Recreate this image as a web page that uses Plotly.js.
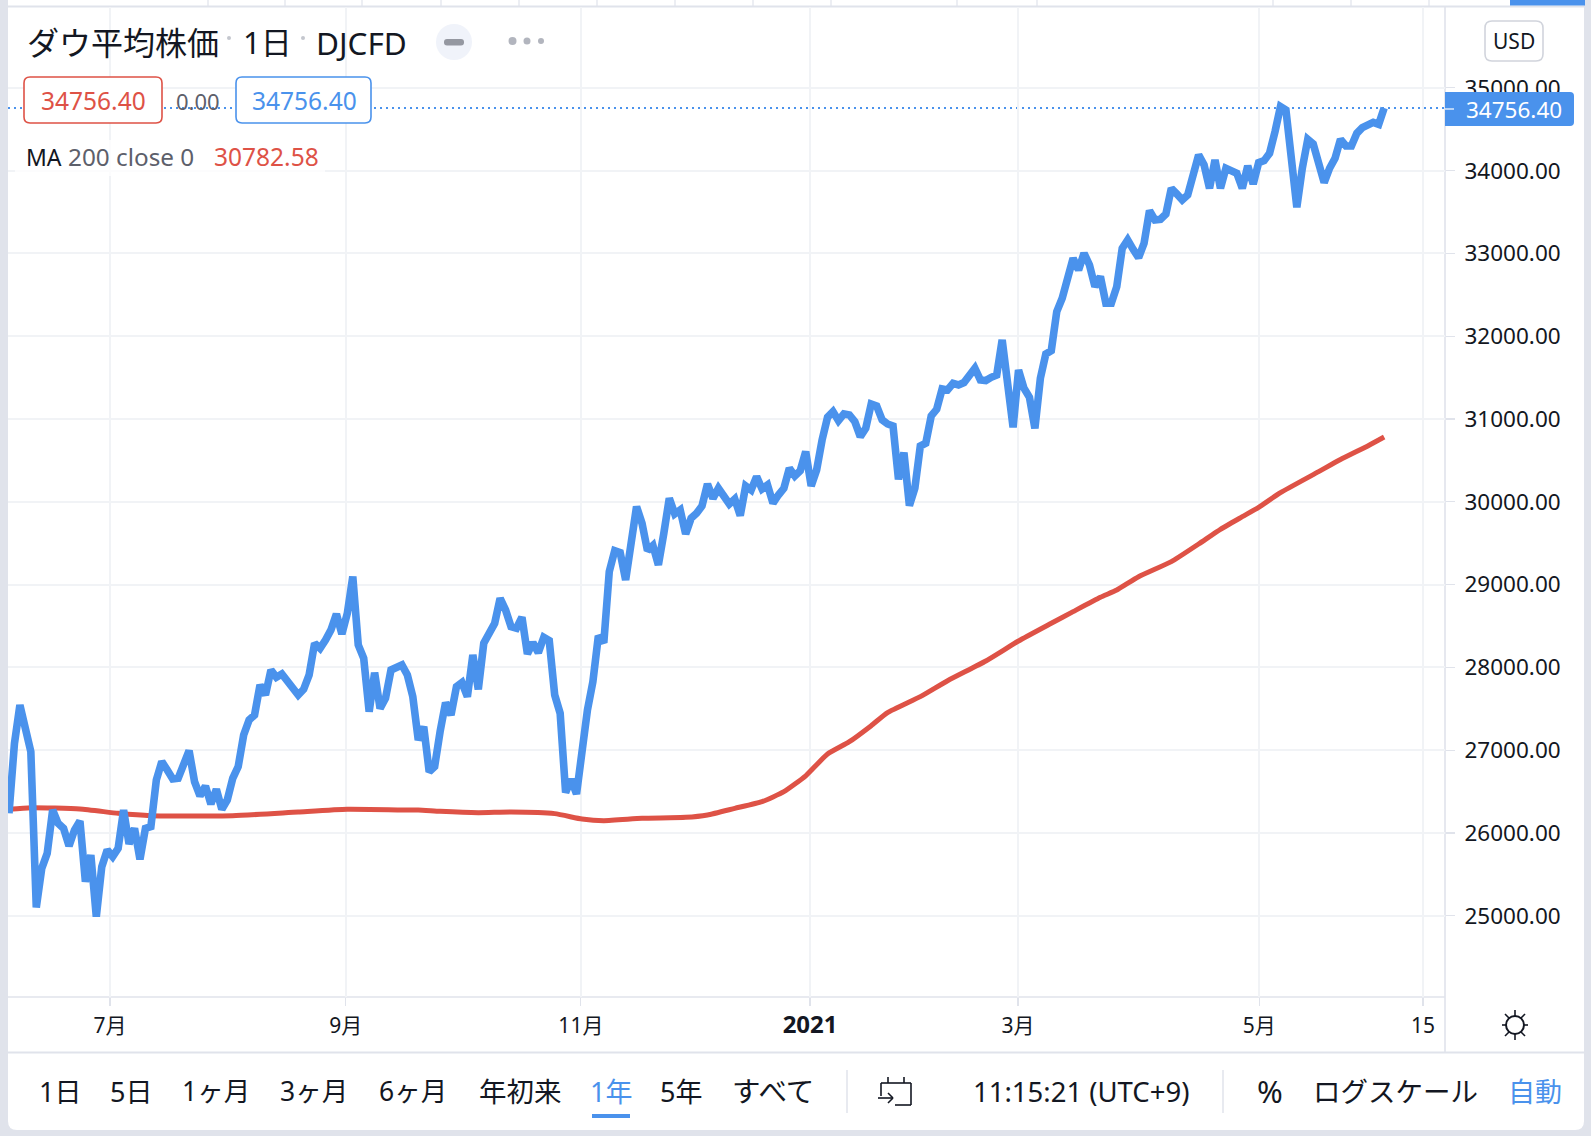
<!DOCTYPE html>
<html><head><meta charset="utf-8">
<script src="https://cdn.plot.ly/plotly-3.0.1.min.js"></script>
<style>html,body{margin:0;padding:0;background:#e0e3eb;overflow:hidden}#c{width:1591px;height:1136px}</style>
</head><body><div id="c"></div>
<script>
const closeValues = [
26237,27082,27545,27223,26982,25101,25572,25753,26277,26116,
26055,25842,26035,26144,25411,25733,24988,25592,25794,25713,
25814,26277,25866,26055,25681,26055,26076,26639,26861,26760,
26651,26659,26820,26994,26619,26446,26567,26349,26527,26285,
26398,26659,26800,27183,27364,27425,27787,27666,27968,27880,
27920,27827,27747,27666,27735,27908,28291,28230,28331,28452,
28645,28404,28653,29096,28271,28110,27465,27936,27505,27626,
27969,27989,28029,27908,27646,27123,27284,26740,26801,27224,
27574,27425,27767,27816,27646,28150,27735,28291,28391,28532,
28834,28693,28492,28472,28605,28162,28299,28178,28363,28323,
27667,27445,26487,26648,26471,27042,27485,27828,28379,28299,
29157,29410,29386,29056,29459,29942,29741,29410,29471,29237,
29620,30043,29853,29901,29611,29801,29861,29950,30215,30042,
30163,30062,29974,30034,29833,30191,30143,30304,30155,30203,
29982,30082,30163,30405,30312,30376,30606,30191,30384,30747,
31021,31089,30980,31061,31049,30968,30787,30888,31182,31158,
30989,30940,30916,30272,30594,29954,30163,30674,30707,31037,
31117,31363,31351,31431,31411,31440,31532,31613,31472,31464,
31504,31532,31955,31431,30900,31592,31371,31262,30888,31492,
31786,31826,32297,32458,32680,32941,32800,33002,32861,32599,
32720,32398,32398,32599,33062,33163,33050,32949,33123,33517,
33405,33413,33477,33787,33719,33646,33707,33948,34190,34069,
33787,34129,33787,34029,33988,33968,33787,34057,33839,34097,
34121,34210,34472,34774,34733,34180,33557,34029,34379,34323,
34049,33856,34029,34150,34379,34298,34298,34452,34520,34564,
34584,34560,34756.40];
const barIndex = closeValues.map((v,i)=>i);
const maIndex = [0,4,13,20,26,41,53,62,72,75,79,86,92,100,105,109,116,124,128,133,138,142,146,150,154,158,161,167,172,179,185,191,195,200,203,207,213,218,222,226,229,233,240,244,249,252];
const maValues = [26285,26305,26289,26237,26208,26208,26253,26285,26277,26277,26261,26245,26253,26233,26168,26148,26176,26188,26217,26297,26378,26498,26690,26953,27102,27296,27453,27646,27839,28077,28318,28532,28673,28846,28934,29095,29277,29490,29667,29820,29933,30110,30364,30510,30675,30782.58];
const priceTicks = [25000,26000,27000,28000,29000,30000,31000,32000,33000,34000,35000];
const timeTickVals = [18.5,61.7,104.8,146.8,184.9,229.1,259.1];
const timeTickText = ['7月','9月','11月','<span style="font-size:24px"><b>2021</b></span>','3月','5月','15'];
const lastPrice = 34756.40;
const BLUE='#4a92ec', RED='#de5246', INK='#131722', GREY='#5d606b', LINE='#e0e3eb', GRID='#f1f3f6';
const FONT='"Noto Sans","Noto Sans CJK JP",sans-serif';

const px=X=>(X-8)/1437, py=Y=>1-(Y-7)/990;
const shapes=[], annotations=[];
function rect(x0,y0,x1,y1,fill,layer,stroke,w){shapes.push({type:'rect',xref:'paper',yref:'paper',x0:px(x0),x1:px(x1),y0:py(y0),y1:py(y1),fillcolor:fill,layer:layer||'above',line:{color:stroke||fill,width:stroke?(w||1.5):0}});}
function seg(x0,y0,x1,y1,c,w,layer){shapes.push({type:'line',xref:'paper',yref:'paper',x0:px(x0),x1:px(x1),y0:py(y0),y1:py(y1),layer:layer||'above',line:{color:c,width:w||1.5}});}
function dot(cx,cy,r,c,stroke){shapes.push({type:'circle',xref:'paper',yref:'paper',x0:px(cx-r),x1:px(cx+r),y0:py(cy-r),y1:py(cy+r),layer:'above',fillcolor:stroke?'rgba(0,0,0,0)':c,line:{color:c,width:stroke?2:0}});}
function rr(x0,y0,x1,y1,r,fill,stroke,w,layer,rOnlyRight){
  const P=(x,y)=>px(x)+','+py(y), rl=rOnlyRight?0:r;
  const d='M'+P(x0+rl,y0)+' L'+P(x1-r,y0)+' Q'+P(x1,y0)+' '+P(x1,y0+r)+' L'+P(x1,y1-r)+' Q'+P(x1,y1)+' '+P(x1-r,y1)+' L'+P(x0+rl,y1)+' Q'+P(x0,y1)+' '+P(x0,y1-rl)+' L'+P(x0,y0+rl)+' Q'+P(x0,y0)+' '+P(x0+rl,y0)+' Z';
  shapes.push({type:'path',xref:'paper',yref:'paper',path:d,fillcolor:fill,layer:layer||'above',line:{color:stroke||fill,width:stroke?(w||1.5):0}});
}
function txt(s,x,y,size,color,anchor){annotations.push({text:s,xref:'paper',yref:'paper',x:px(x),y:py(y),xanchor:anchor||'center',yanchor:'middle',showarrow:false,font:{family:FONT,size:size,color:color||INK},borderpad:0,borderwidth:0});}

// panel
rr(8,-10,1584,1130,9,'#ffffff',null,0,'below');
rect(8,5.5,1584,7.5,LINE,'below');
[208,285,362,441,519,597,675,753,831,957,1037,1273,1351,1429].forEach(x=>seg(x,0,x,6,LINE,1.2,'below'));
rect(1510,0,1585,5.5,BLUE,'below');
// axis frames
seg(1445,7,1445,1052,LINE,1.6,'below');
seg(8,1052.5,1584,1052.5,LINE,1.8,'below');
seg(8,997,1445,997,LINE,1.6,'below');
// last price line
shapes.push({type:'line',xref:'paper',yref:'y',x0:0,x1:px(1454),y0:lastPrice,y1:lastPrice,layer:'below',line:{color:BLUE,width:2,dash:'2px,4px'}});
// title row
txt('ダウ平均株価',27,42,32,INK,'left');
dot(229,38,2,'#c4c7ce');
txt('1日',243,42,31,INK,'left');
dot(303,38,2,'#c4c7ce');
txt('DJCFD',316,42,31.5,INK,'left');
dot(454,42,18,'#f0f3fa');
rr(444,39,464,45.5,3,'#9598a1');
dot(512.5,41,4,'#b2b5be');dot(527,41,3.5,'#b2b5be');dot(541,41,3,'#b2b5be');
// value row
rr(24,77,162,123,6,'#ffffff',RED,1.6);
rr(236,77,371,123,6,'#ffffff',BLUE,1.6);
txt('34756.40',93,100.5,24.5,RED);
txt('34756.40',304.5,100.5,24.5,BLUE);
txt('0.00',198,100.5,22,GREY);
// MA row
rect(15,140,325,176,'rgba(255,255,255,0.75)');
txt('MA',26,157,23,INK,'left');
txt('200 close 0',68,157,24.3,GREY,'left');
txt('30782.58',214,157,24.5,RED,'left');
// USD
rr(1485,21,1543,61,7,'#ffffff','#d1d4dc',1.6);
txt('USD',1514,40.5,21,INK);
// price tag
rr(1445,92,1574,126,4,BLUE,null,0,'above',true);
txt('34756.40',1514,109,22.5,'#ffffff');
seg(1445,109,1454,109,'#ffffff',1.2);
// sun icon
dot(1515,1025,9,INK,true);
[[1515,1016,1515,1010],[1515,1034,1515,1040],[1506,1025,1502,1025],[1524,1025,1528,1025],[1509,1018,1505,1014],[1521,1018,1525,1014],[1509,1032,1505,1036],[1521,1032,1525,1036]].forEach(a=>seg(a[0],a[1],a[2],a[3],INK,1.6));
// bottom bar
[['1日',60,27],['5日',131,27],['1ヶ月',216,26.5],['3ヶ月',314,26.5],['6ヶ月',413,26.5],['年初来',520,27.5],['5年',681,27],['すべて',773,28.5]].forEach(a=>txt(a[0],a[1],1091,a[2],INK));
txt('1年',611,1091,27,BLUE);
rect(592,1114,630,1118,BLUE);
seg(847,1070,847,1113,LINE,1.5);
seg(1223,1070,1223,1113,LINE,1.5);
// calendar icon
[[881,1083,911,1083],[881,1083,881,1096],[911,1083,911,1105],[895,1105,911,1105],[888,1077,888,1083],[904,1077,904,1083],[878,1098,893,1098],[893,1098,888,1093],[893,1098,888,1103]].forEach(a=>seg(a[0],a[1],a[2],a[3],INK,1.6));
txt('11:15:21 (UTC+9)',1081,1091,27.5,INK);
txt('%',1270,1091,31,INK);
txt('ログスケール',1395,1091,27.5,INK);
txt('自動',1535,1091,27,BLUE);

const traces=[
 {x:maIndex,y:maValues,type:'scatter',mode:'lines',name:'MA 200',line:{color:RED,width:5,shape:'spline',smoothing:0.5},hoverinfo:'skip'},
 {x:barIndex,y:closeValues,type:'scatter',mode:'lines',name:'DJCFD',line:{color:BLUE,width:7.6,shape:'linear'},hoverinfo:'skip'}
];
const layout={
 width:1591,height:1136,autosize:false,showlegend:false,
 margin:{l:8,r:146,t:7,b:139,pad:0},
 paper_bgcolor:'#e0e3eb',plot_bgcolor:'rgba(0,0,0,0)',
 font:{family:FONT,color:INK},
 xaxis:{range:[-0.183,263.15],tickmode:'array',tickvals:timeTickVals,ticktext:timeTickText,
   showgrid:true,gridcolor:GRID,gridwidth:2,zeroline:false,showline:false,
   ticks:'outside',ticklen:8,tickwidth:1.2,tickcolor:LINE,ticklabelstandoff:2,tickfont:{size:21,color:INK,family:FONT}},
 yaxis:{range:[24018,35977],side:'right',tickmode:'array',tickvals:priceTicks,tickformat:'.2f',
   showgrid:true,gridcolor:GRID,gridwidth:2,zeroline:false,showline:false,
   ticks:'outside',ticklen:9,tickwidth:1.2,tickcolor:LINE,ticklabelstandoff:5,tickfont:{size:22.5,color:INK,family:FONT}},
 shapes,annotations
};
Plotly.newPlot('c',traces,layout,{displayModeBar:false,staticPlot:true});
</script></body></html>
